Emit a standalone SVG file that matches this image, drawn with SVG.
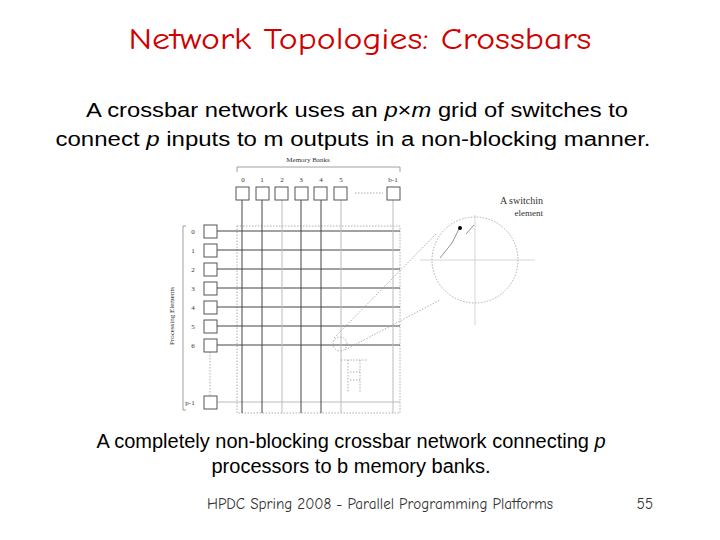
<svg xmlns="http://www.w3.org/2000/svg" width="720" height="540" viewBox="0 0 720 540">
<style>
.t{font-family:"Liberation Sans",Arial,sans-serif;font-size:20px;fill:#000}
.s{font-family:"Liberation Serif",serif;font-size:7px;fill:#333}
.box{fill:#fff;stroke:#555;stroke-width:1}
.dk{stroke:#444;stroke-width:1}
.lt{stroke:#bbb;stroke-width:1}
.dt{stroke:#999;stroke-width:0.8;stroke-dasharray:1.5 1.5;fill:none}
</style>
<rect width="720" height="540" fill="#fff"/>
<text x="360" y="49" text-anchor="middle" font-family="'Comic Neue','DejaVu Sans',sans-serif" font-size="31" fill="#d00000" textLength="463" lengthAdjust="spacingAndGlyphs">Network Topologies: Crossbars</text>
<text x="357" y="117" text-anchor="middle" class="t" font-size="22" textLength="542" lengthAdjust="spacingAndGlyphs">A crossbar network uses an <tspan font-style="italic">p</tspan>×<tspan font-style="italic">m</tspan> grid of switches to</text>
<text x="353" y="146" text-anchor="middle" class="t" font-size="22" textLength="595" lengthAdjust="spacingAndGlyphs">connect <tspan font-style="italic">p</tspan> inputs to m outputs in a non-blocking manner.</text>
<g id="figure">
<text x="308" y="162" text-anchor="middle" class="s">Memory Banks</text>
<path d="M237,172 V167 H400 V172" fill="none" stroke="#888" stroke-width="0.8"/>
<g class="s" text-anchor="middle">
<text x="243" y="182">0</text><text x="262" y="182">1</text><text x="282" y="182">2</text><text x="301" y="182">3</text><text x="321" y="182">4</text><text x="341" y="182">5</text><text x="393" y="182">b-1</text>
<text x="193" y="234">0</text><text x="193" y="253">1</text><text x="193" y="272">2</text><text x="193" y="291">3</text><text x="193" y="310">4</text><text x="193" y="329">5</text><text x="193" y="348">6</text><text x="190" y="405">p-1</text>
</g>
<text transform="translate(174,316) rotate(-90)" text-anchor="middle" class="s">Processing Elements</text>
<path d="M186,226 H183 V410 H186" fill="none" stroke="#888" stroke-width="0.8"/>
<rect x="237" y="226" width="163" height="187" class="dt"/>
<g id="connectors">
<line x1="217" y1="231" x2="400" y2="231" class="dk"/>
<line x1="217" y1="250" x2="400" y2="250" class="dk"/>
<line x1="217" y1="269" x2="400" y2="269" class="dk"/>
<line x1="217" y1="288" x2="400" y2="288" class="dk"/>
<line x1="217" y1="307" x2="400" y2="307" class="dk"/>
<line x1="217" y1="326" x2="400" y2="326" class="dk"/>
<line x1="217" y1="345" x2="400" y2="345" class="dk"/>
<line x1="217" y1="402" x2="400" y2="402" class="lt"/>
<line x1="242" y1="200" x2="242" y2="413" class="dk"/>
<line x1="262" y1="200" x2="262" y2="413" class="dk"/>
<line x1="282" y1="200" x2="282" y2="413" class="lt"/>
<line x1="301" y1="200" x2="301" y2="413" class="dk"/>
<line x1="321" y1="200" x2="321" y2="413" class="dk"/>
<line x1="341" y1="200" x2="341" y2="413" class="lt"/>
<line x1="393" y1="200" x2="393" y2="413" class="lt"/>
<line x1="210" y1="352" x2="210" y2="395" class="dt"/>
<line x1="355" y1="193" x2="383" y2="193" class="dt"/>
</g>
<g class="box">
<rect x="236" y="187" width="13" height="13"/><rect x="256" y="187" width="13" height="13"/><rect x="275" y="187" width="13" height="13"/><rect x="295" y="187" width="13" height="13"/><rect x="314" y="187" width="13" height="13"/><rect x="334" y="187" width="13" height="13"/><rect x="387" y="187" width="13" height="13"/>
<rect x="204" y="225" width="13" height="13"/><rect x="204" y="244" width="13" height="13"/><rect x="204" y="263" width="13" height="13"/><rect x="204" y="282" width="13" height="13"/><rect x="204" y="301" width="13" height="13"/><rect x="204" y="320" width="13" height="13"/><rect x="204" y="339" width="13" height="13"/><rect x="204" y="396" width="13" height="13"/>
</g>
<circle cx="340" cy="344" r="7" class="dt"/>
<circle cx="475" cy="260" r="43" class="dt"/>
<line x1="334" y1="338" x2="437" y2="233" class="dt"/>
<line x1="345" y1="350" x2="440" y2="300" class="dt"/>
<line x1="420" y1="260" x2="535" y2="260" stroke="#ccc" stroke-width="0.8"/>
<line x1="475" y1="215" x2="475" y2="325" stroke="#ccc" stroke-width="0.8"/>
<path d="M440,258 L452,243 L459,229" fill="none" stroke="#777" stroke-width="0.8"/>
<line x1="466" y1="234" x2="474" y2="225" stroke="#777" stroke-width="0.8"/>
<circle cx="460" cy="228" r="2" fill="#000"/>
<path d="M348,360 V392 M360,360 V392 M341,360 H367 M350,372 H360 M350,380 H360" class="dt"/>
<text x="543" y="204" text-anchor="end" font-family="'Liberation Serif',serif" font-size="10" fill="#333">A switchin</text>
<text x="543" y="216" text-anchor="end" font-family="'Liberation Serif',serif" font-size="9" fill="#333">element</text>
</g>
<text x="351" y="448" text-anchor="middle" class="t" font-size="18">A completely non-blocking crossbar network connecting <tspan font-style="italic">p</tspan></text>
<text x="351" y="473" text-anchor="middle" class="t" font-size="18">processors to b memory banks.</text>
<text x="380" y="509" text-anchor="middle" font-family="'Comic Neue','DejaVu Sans',sans-serif" font-size="15" fill="#333" textLength="346" lengthAdjust="spacingAndGlyphs">HPDC Spring 2008 -  Parallel Programming Platforms</text>
<text x="645" y="509" text-anchor="middle" font-family="'Comic Neue','DejaVu Sans',sans-serif" font-size="15" fill="#333">55</text>
</svg>
